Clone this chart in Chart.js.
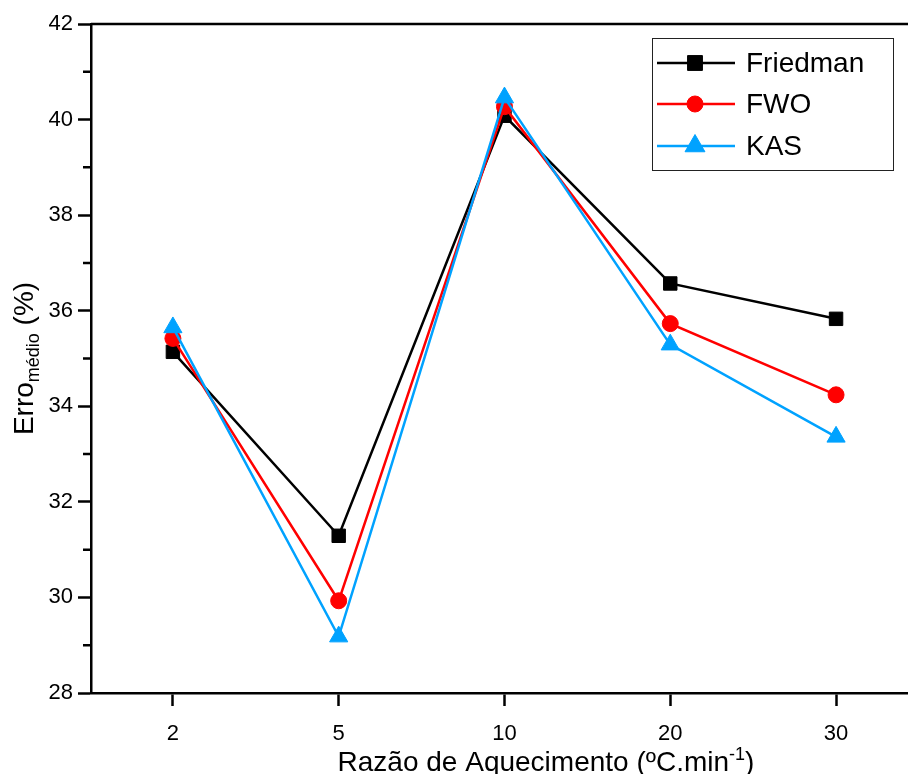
<!DOCTYPE html>
<html>
<head>
<meta charset="utf-8">
<script src="https://cdn.jsdelivr.net/npm/chart.js"></script>
<style>
    html, body { margin: 0; padding: 0; background: #fff; }
    canvas { display: block; }
</style>
</head>
<body>
<canvas id="chart" width="908" height="774"></canvas>
<script>
"use strict"

// Heating rates (categories) and mean error per method
const rates = ["2", "5", "10", "20", "30"];
const friedman = [35.14, 31.29, 40.08, 36.57, 35.83];
const fwo = [35.42, 29.93, 40.27, 35.73, 34.24];
const kas = [35.65, 29.18, 40.46, 35.29, 33.36];
const yTicks = [28, 30, 32, 34, 36, 38, 40, 42];

const FONT = '"Liberation Sans", Arial, sans-serif';
const BLUE = "#00a2ff";

const series = [
    { label: "Friedman", data: friedman, color: "#000000", style: "rect", radius: 9.5, order: 3 },
    { label: "FWO", data: fwo, color: "#ff0000", style: "circle", radius: 8, order: 2 },
    { label: "KAS", data: kas, color: BLUE, style: "triangle", radius: 10.5, order: 1 }
];

// Frame, minor ticks, axis titles and legend
const decorations = {
    id: 'decorations',
    afterDraw(chart) {
        const { ctx, chartArea: { left, right, top, bottom }, scales: { y } } = chart;
        ctx.save();

        // top frame line
        ctx.strokeStyle = "#000";
        ctx.lineWidth = 2.5;
        ctx.beginPath();
        ctx.moveTo(left, top);
        ctx.lineTo(right, top);
        ctx.stroke();

        // minor y ticks
        ctx.beginPath();
        for (let i = 0; i < yTicks.length - 1; i++) {
            const py = y.getPixelForValue((yTicks[i] + yTicks[i + 1]) / 2);
            ctx.moveTo(left - 8, py);
            ctx.lineTo(left, py);
        }
        ctx.stroke();

        ctx.fillStyle = "#000";
        ctx.textAlign = "left";
        ctx.textBaseline = "alphabetic";

        // y title: Erro_médio (%)
        const big = "28px " + FONT;
        const small = "18px " + FONT;
        ctx.font = big;
        const w1 = ctx.measureText("Erro").width;
        const w3 = ctx.measureText(" (%)").width;
        ctx.font = small;
        const w2 = ctx.measureText("médio").width;
        ctx.save();
        ctx.translate(33, (top + bottom) / 2);
        ctx.rotate(-Math.PI / 2);
        let tx = -(w1 + w2 + w3) / 2;
        ctx.font = big;
        ctx.fillText("Erro", tx, 0);
        tx += w1;
        ctx.font = small;
        ctx.fillText("médio", tx, 6);
        tx += w2;
        ctx.font = big;
        ctx.fillText(" (%)", tx, 0);
        ctx.restore();

        // x title: Razão de Aquecimento (ºC.min^-1)
        ctx.font = big;
        const a = "Razão de Aquecimento (ºC.min";
        const wa = ctx.measureText(a).width;
        const wc = ctx.measureText(")").width;
        ctx.font = small;
        const wb = ctx.measureText("-1").width;
        let xx = 546 - (wa + wb + wc) / 2;
        const base = 771;
        ctx.font = big;
        ctx.fillText(a, xx, base);
        xx += wa;
        ctx.font = small;
        ctx.fillText("-1", xx, base - 11);
        xx += wb;
        ctx.font = big;
        ctx.fillText(")", xx, base);

        // legend
        ctx.strokeStyle = "#222";
        ctx.lineWidth = 1;
        ctx.strokeRect(652.5, 38.5, 241, 132);
        const rowsY = [63, 104, 146];
        const legendRadius = [10.5, 8, 11.5];
        ctx.font = "28px " + FONT;
        ctx.textBaseline = "middle";
        series.forEach((s, i) => {
            const ly = rowsY[i];
            ctx.strokeStyle = s.color;
            ctx.fillStyle = s.color;
            ctx.lineWidth = 2.5;
            ctx.beginPath();
            ctx.moveTo(657, ly);
            ctx.lineTo(735, ly);
            ctx.stroke();
            ctx.lineWidth = 1;
            Chart.helpers.drawPoint(ctx, { pointStyle: s.style, radius: legendRadius[i], rotation: 0, borderWidth: 1 }, 695, ly);
            ctx.fillStyle = "#000";
            ctx.fillText(s.label, 746, ly + 1);
        });

        ctx.restore();
    }
};

new Chart(document.getElementById("chart"), {
    type: 'line',
    data: {
        datasets: series.map(s => ({
            label: s.label,
            data: s.data.map((v, i) => ({ x: i, y: v })),
            borderColor: s.color,
            backgroundColor: s.color,
            borderWidth: 2.5,
            pointStyle: s.style,
            pointRadius: s.radius,
            pointBackgroundColor: s.color,
            pointBorderColor: s.color,
            pointBorderWidth: 1,
            order: s.order,
            tension: 0
        }))
    },
    options: {
        responsive: false,
        animation: false,
        layout: { autoPadding: false, padding: { top: 24, right: 0, left: 0, bottom: 0 } },
        plugins: {
            legend: { display: false },
            tooltip: { enabled: false }
        },
        scales: {
            x: {
                type: 'linear',
                min: -0.494,
                max: 4.434,
                afterBuildTicks: s => { s.ticks = rates.map((r, i) => ({ value: i })); },
                afterFit: s => { s.height = 81; s.paddingLeft = 0; s.paddingRight = 0; },
                ticks: {
                    callback: v => rates[v],
                    font: { size: 22, family: FONT },
                    color: "#000",
                    padding: 15,
                    maxRotation: 0
                },
                grid: {
                    drawOnChartArea: false,
                    tickLength: 13,
                    tickWidth: 2.5,
                    tickColor: "#000"
                },
                border: { color: "#000", width: 2.5 }
            },
            y: {
                min: 28,
                max: 42,
                afterBuildTicks: s => { s.ticks = yTicks.map(v => ({ value: v })); },
                afterFit: s => { s.width = 91; s.paddingTop = 0; s.paddingBottom = 0; },
                ticks: {
                    font: { size: 22, family: FONT },
                    color: "#000",
                    padding: 5
                },
                grid: {
                    drawOnChartArea: false,
                    tickLength: 13,
                    tickWidth: 2.5,
                    tickColor: "#000"
                },
                border: { color: "#000", width: 2.5 }
            }
        }
    },
    plugins: [decorations]
});
</script>
</body>
</html>
